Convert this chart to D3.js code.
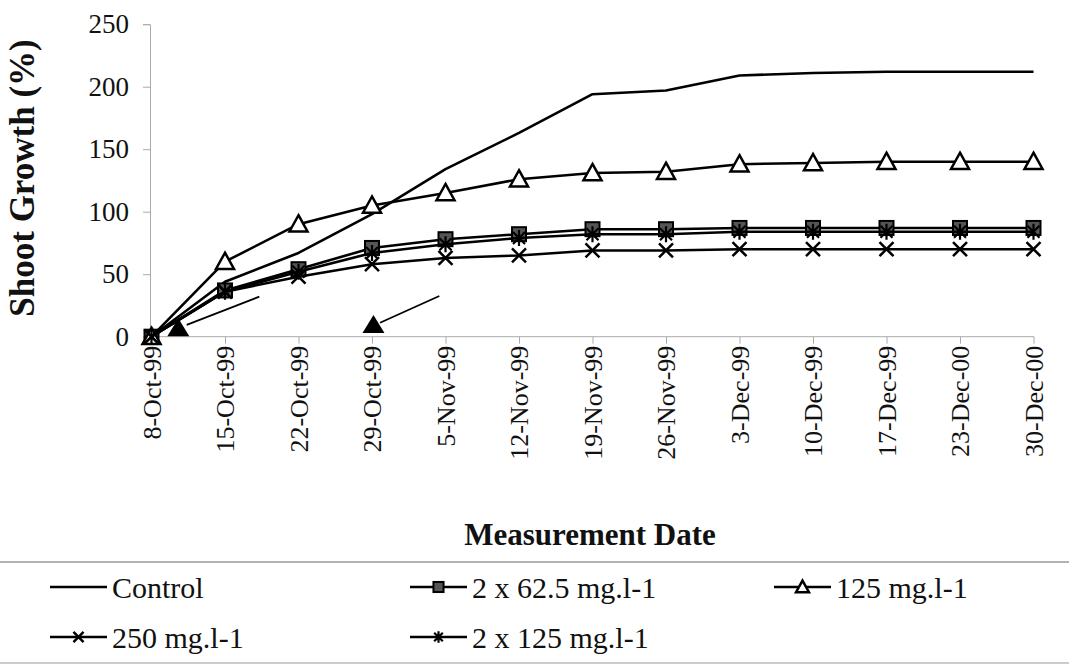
<!DOCTYPE html>
<html>
<head>
<meta charset="utf-8">
<script src="https://cdn.jsdelivr.net/npm/d3@7"></script>
<style>
  body { margin: 0; background: #fff; }
  svg text { font-family: "Liberation Serif", "Times New Roman", serif; }
</style>
</head>
<body>
<div id="chart-area"></div>
<script>
// datos
var dates = ["8-Oct-99", "15-Oct-99", "22-Oct-99", "29-Oct-99", "5-Nov-99", "12-Nov-99",
  "19-Nov-99", "26-Nov-99", "3-Dec-99", "10-Dec-99", "17-Dec-99", "23-Dec-00", "30-Dec-00"];
var control   = [0, 44, 67, 98, 134, 163, 194, 197, 209, 211, 212, 212, 212];
var dose62x2  = [0, 37, 54, 71, 78, 82, 86, 86, 87, 87, 87, 87, 87];
var dose125   = [0, 60, 90, 105, 115, 126, 131, 132, 138, 139, 140, 140, 140];
var dose250   = [0, 36, 48, 58, 63, 65, 69, 69, 70, 70, 70, 70, 70];
var dose125x2 = [0, 36, 52, 67, 74, 79, 82, 82, 84, 84, 84, 84, 84];
var seriesNames = ["Control", "2 x 62.5 mg.l-1", "125 mg.l-1", "250 mg.l-1", "2 x 125 mg.l-1"];
var yTicks = [0, 50, 100, 150, 200, 250];
// application marks (index on date axis, value) and their pointer lines
var appMarks = [[0.365, 6.7], [3.02, 9.4]];
var appLines = [[1.467, 32, 0.479, 9.4], [3.916, 32.6, 3.109, 11.2]];

var W = 1069, H = 665;
var serif = "'Liberation Serif', 'Times New Roman', serif";
var svg = d3.select("#chart-area").append("svg")
    .attr("width", W).attr("height", H);

var x = d3.scalePoint().domain(dates).range([151.5, 1033.5]);
var xi = d3.scaleLinear().domain([0, dates.length - 1]).range([151.5, 1033.5]);
var y = d3.scaleLinear().domain([0, 250]).range([336.7, 24.2]);

// y axis
var yAxis = svg.append("g")
    .attr("transform", "translate(150,0)")
    .call(d3.axisLeft(y).tickValues(yTicks).tickSize(7).tickPadding(14));
yAxis.attr("font-family", serif);
yAxis.select(".domain").attr("stroke", "#aaa");
yAxis.selectAll(".tick line").attr("stroke", "#aaa");
yAxis.selectAll("text").attr("font-size", 27).attr("fill", "#111")
    .style("font-family", serif);

// x axis
var xAxis = svg.append("g")
    .attr("transform", "translate(0,336.7)")
    .call(d3.axisBottom(x).tickSize(7).tickSizeOuter(0));
xAxis.attr("font-family", serif);
xAxis.select(".domain").attr("stroke", "#aaa").attr("d", "M150,0H1034");
xAxis.selectAll(".tick line").attr("stroke", "#aaa");
xAxis.selectAll("text")
    .attr("font-size", 26).attr("fill", "#111")
    .style("font-family", serif)
    .attr("text-anchor", "end")
    .attr("transform", "rotate(-90)")
    .attr("x", -9).attr("y", 0).attr("dy", "0.33em");

// titulos
svg.append("text")
    .attr("transform", "translate(34,178) rotate(-90)")
    .attr("text-anchor", "middle")
    .style("font-family", serif)
    .attr("font-size", 35).attr("font-weight", "bold").attr("fill", "#111")
    .text("Shoot Growth (%)");
svg.append("text")
    .attr("x", 590).attr("y", 545)
    .attr("text-anchor", "middle")
    .style("font-family", serif)
    .attr("font-size", 31).attr("font-weight", "bold").attr("fill", "#111")
    .text("Measurement Date");

// marcadores
function drawMarker(sel, kind, cx, cy, k) {
  k = k || 1;
  var s = 7 * k;
  if (kind == "square") {
    sel.append("rect").attr("x", cx - s).attr("y", cy - s).attr("width", 2 * s).attr("height", 2 * s)
      .attr("fill", "#555").attr("stroke", "#000").attr("stroke-width", 2);
  } else if (kind == "triangle") {
    var t = 9 * k;
    sel.append("path").attr("d", "M" + cx + "," + (cy - t) + "L" + (cx + t) + "," + (cy + 0.8 * t) + "L" + (cx - t) + "," + (cy + 0.8 * t) + "Z")
      .attr("fill", "#fff").attr("stroke", "#000").attr("stroke-width", 2.5);
  } else if (kind == "x") {
    sel.append("path").attr("d", "M" + (cx - s) + "," + (cy - s) + "L" + (cx + s) + "," + (cy + s) +
        "M" + (cx + s) + "," + (cy - s) + "L" + (cx - s) + "," + (cy + s))
      .attr("stroke", "#000").attr("stroke-width", 2.5);
  } else if (kind == "star") {
    var a = 6 * k, b = 8 * k;
    sel.append("path").attr("d", "M" + (cx - a) + "," + (cy - a) + "L" + (cx + a) + "," + (cy + a) +
        "M" + (cx + a) + "," + (cy - a) + "L" + (cx - a) + "," + (cy + a) +
        "M" + cx + "," + (cy - b) + "L" + cx + "," + (cy + b))
      .attr("stroke", "#000").attr("stroke-width", 2.2);
  }
}

var series = [
  { name: seriesNames[0], values: control, marker: null },
  { name: seriesNames[1], values: dose62x2, marker: "square" },
  { name: seriesNames[2], values: dose125, marker: "triangle" },
  { name: seriesNames[3], values: dose250, marker: "x" },
  { name: seriesNames[4], values: dose125x2, marker: "star" }
];

var line = d3.line().x((d, i) => x(dates[i])).y(d => y(d));
var plot = svg.append("g");
series.forEach(function(s) {
  var gs = plot.append("g");
  gs.append("path").attr("d", line(s.values))
    .attr("fill", "none").attr("stroke", "#000").attr("stroke-width", 2.6)
    .attr("stroke-linejoin", "round");
  if (s.marker) {
    s.values.forEach(function(v, i) { drawMarker(gs, s.marker, x(dates[i]), y(v)); });
  }
});

// marcas de aplicacion
appMarks.forEach(function(m) {
  var cx = xi(m[0]), cy = y(m[1]);
  svg.append("path")
    .attr("d", "M" + cx + "," + (cy - 10) + "L" + (cx + 11) + "," + (cy + 8) + "L" + (cx - 11) + "," + (cy + 8) + "Z")
    .attr("fill", "#000");
});
appLines.forEach(function(l) {
  svg.append("line")
    .attr("x1", xi(l[0])).attr("y1", y(l[1]))
    .attr("x2", xi(l[2])).attr("y2", y(l[3]))
    .attr("stroke", "#000").attr("stroke-width", 1.8);
});

// leyenda
svg.append("line").attr("x1", 0).attr("x2", W).attr("y1", 562).attr("y2", 562)
  .attr("stroke", "#999").attr("stroke-width", 1.5);
svg.append("line").attr("x1", 0).attr("x2", W).attr("y1", 663).attr("y2", 663)
  .attr("stroke", "#bbb").attr("stroke-width", 1.5);

var legPos = [[50, 587], [410, 587], [774, 587], [50, 637], [410, 637]];
series.forEach(function(s, i) {
  var lx = legPos[i][0], ly = legPos[i][1];
  var lg = svg.append("g");
  lg.append("line").attr("x1", lx).attr("x2", lx + 57).attr("y1", ly).attr("y2", ly)
    .attr("stroke", "#000").attr("stroke-width", 2.6);
  if (s.marker) drawMarker(lg, s.marker, lx + 28.5, ly, 0.72);
  lg.append("text").attr("x", lx + 62).attr("y", ly + 10.5)
    .style("font-family", serif)
    .attr("font-size", 30).attr("fill", "#111")
    .text(s.name);
});
</script>
</body>
</html>
